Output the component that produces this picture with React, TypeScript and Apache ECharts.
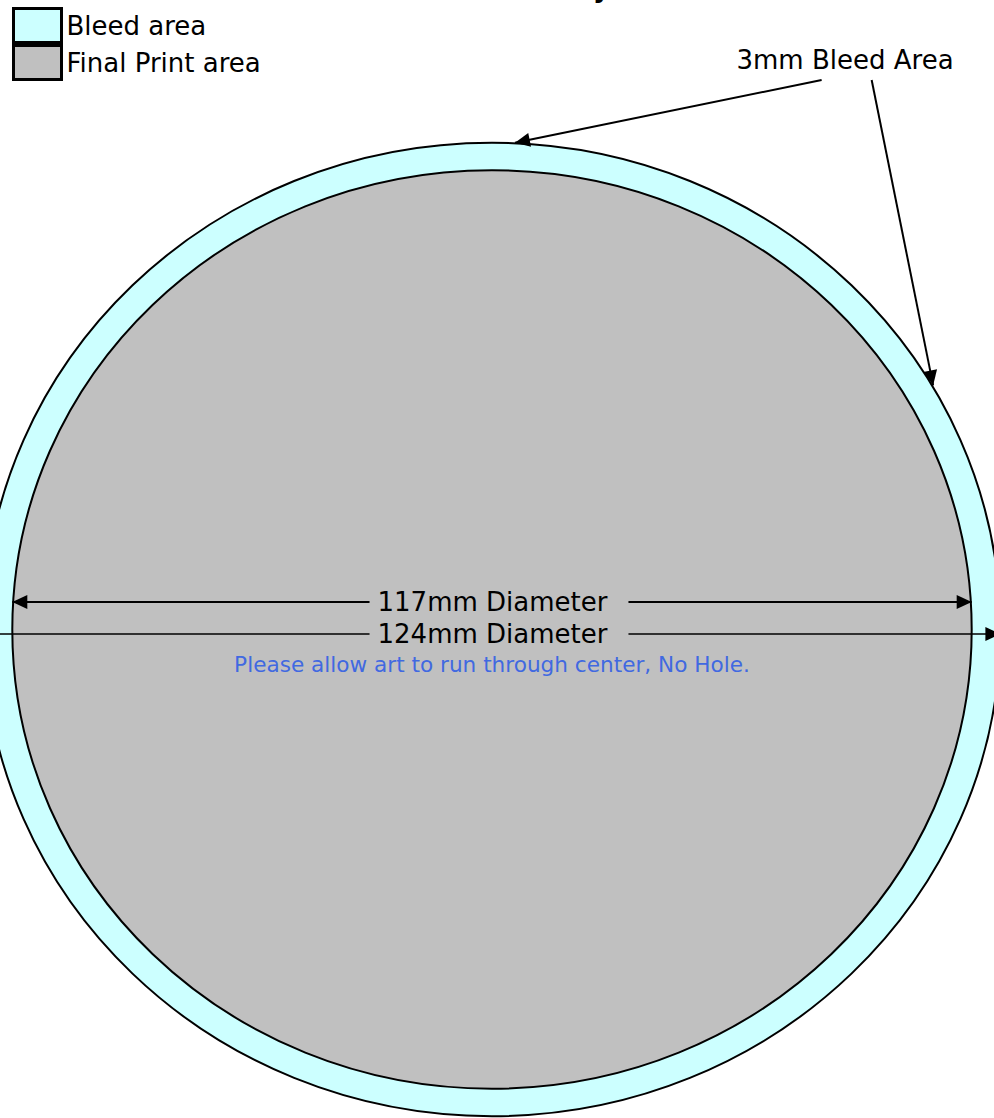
import React, { useEffect, useRef } from "react";
import * as echarts from "echarts";

// ---- data (millimetres) ----
const ringNames = ["Bleed area", "Final Print area"];
const ringDiameters = [124, 117];
const ringColors = ["#ccffff", "#c0c0c0"];

const dimensionLabels = ["117mm Diameter", "124mm Diameter"];
const dimensionY = [3.5, -0.57];
const dimensionHalfSpan = [58.5, 62];

const pointerStarts = [
  [40.2, 70.0],
  [46.3, 70.0],
];
const pointerEnds = [
  [2.8, 62.0],
  [53.8, 31.1],
];

const annotationTexts = ["3mm Bleed Area", "Please allow art to run through center, No Hole."];
const annotationX = [43.05, 0];
const annotationY = [72.55, -4.52];

const titleText = "Full Color Disc Art Layout";

const FONT = "'DejaVu Sans', Verdana, sans-serif";

function arrowHead(tip: number[], from: number[], len = 15, half = 7) {
  const dx = tip[0] - from[0];
  const dy = tip[1] - from[1];
  const L = Math.hypot(dx, dy) || 1;
  const ux = dx / L;
  const uy = dy / L;
  const bx = tip[0] - ux * len;
  const by = tip[1] - uy * len;
  return {
    type: "polygon",
    shape: {
      points: [
        [tip[0], tip[1]],
        [bx - uy * half, by + ux * half],
        [bx + uy * half, by - ux * half],
      ],
    },
    style: { fill: "#000" },
  };
}

export default function App() {
  const ref = useRef<HTMLDivElement>(null);
  useEffect(() => {
    const chart = echarts.init(ref.current!, null, { renderer: "svg" });
    const option: any = {
      animation: false,
      backgroundColor: "#ffffff",
      grid: { left: 0, right: 0, top: 0, bottom: 0 },
      xAxis: { type: "value", min: -60, max: 61.22, show: false },
      yAxis: { type: "value", min: -62.23, max: 80.19, show: false },
      legend: {
        orient: "vertical",
        left: 12,
        top: 7,
        padding: 0,
        itemGap: 0,
        itemWidth: 48,
        itemHeight: 34,
        icon: "rect",
        selectedMode: false,
        textStyle: { fontSize: 26, fontFamily: FONT, color: "#000" },
        data: ringNames.map((n, i) => ({
          name: n,
          itemStyle: { color: ringColors[i], borderColor: "#000", borderWidth: 3 },
        })),
      },
      graphic: [
        {
          type: "text",
          x: 473,
          y: -12,
          style: {
            text: titleText,
            font: `bold 26px ${FONT}`,
            fill: "#000",
            align: "center",
            verticalAlign: "middle",
          },
        },
      ],
      series: [
        ...ringNames.map((name, i) => ({
          type: "custom",
          name,
          itemStyle: { color: ringColors[i], borderColor: "#000", borderWidth: 3 },
          data: [[0, 0, ringDiameters[i]]],
          renderItem: (params: any, api: any) => {
            const c = api.coord([api.value(0), api.value(1)]);
            const d = api.value(2);
            const s = api.size([d / 2, d / 2]);
            return {
              type: "ellipse",
              shape: { cx: c[0], cy: c[1], rx: s[0], ry: s[1] },
              style: { fill: ringColors[i], stroke: "#000", lineWidth: 2 },
            };
          },
        })),
        {
          type: "custom",
          name: "dimensions",
          data: dimensionY.map((y, i) => [y, dimensionHalfSpan[i], i]),
          renderItem: (params: any, api: any) => {
            const i = params.dataIndex;
            const y = api.value(0);
            const h = api.value(1);
            const a = api.coord([-h, y]);
            const b = api.coord([h, y]);
            const c = api.coord([0, y]);
            return {
              type: "group",
              children: [
                {
                  type: "line",
                  shape: { x1: a[0], y1: a[1], x2: b[0], y2: b[1] },
                  style: { stroke: "#000", lineWidth: i === 0 ? 2 : 1.5 },
                },
                arrowHead(a, b),
                arrowHead(b, a),
                {
                  type: "text",
                  x: c[0] + 7,
                  y: c[1],
                  style: {
                    text: dimensionLabels[i],
                    font: `26px ${FONT}`,
                    fill: "#000",
                    align: "center",
                    verticalAlign: "middle",
                    backgroundColor: "#c0c0c0",
                    padding: [0, 21, 0, 8],
                  },
                },
              ],
            };
          },
        },
        {
          type: "custom",
          name: "pointers",
          data: pointerStarts.map((s, i) => [s[0], s[1], pointerEnds[i][0], pointerEnds[i][1]]),
          renderItem: (params: any, api: any) => {
            const a = api.coord([api.value(0), api.value(1)]);
            const b = api.coord([api.value(2), api.value(3)]);
            return {
              type: "group",
              children: [
                {
                  type: "line",
                  shape: { x1: a[0], y1: a[1], x2: b[0], y2: b[1] },
                  style: { stroke: "#000", lineWidth: 2 },
                },
                arrowHead(b, a),
              ],
            };
          },
        },
        {
          type: "custom",
          name: "annotations",
          data: annotationTexts.map((t, i) => [annotationX[i], annotationY[i], i]),
          renderItem: (params: any, api: any) => {
            const i = params.dataIndex;
            const c = api.coord([api.value(0), api.value(1)]);
            return {
              type: "text",
              x: c[0],
              y: c[1],
              style: {
                text: annotationTexts[i],
                font: i === 0 ? `26px ${FONT}` : `21.6px ${FONT}`,
                fill: i === 0 ? "#000" : "#4169e1",
                align: "center",
                verticalAlign: "middle",
              },
            };
          },
        },
      ],
    };
    chart.setOption(option);
    return () => chart.dispose();
  }, []);
  return (
    <div
      ref={ref}
      style={{ position: "absolute", left: 0, top: 0, width: 994, height: 1118, background: "#fff" }}
    />
  );
}
